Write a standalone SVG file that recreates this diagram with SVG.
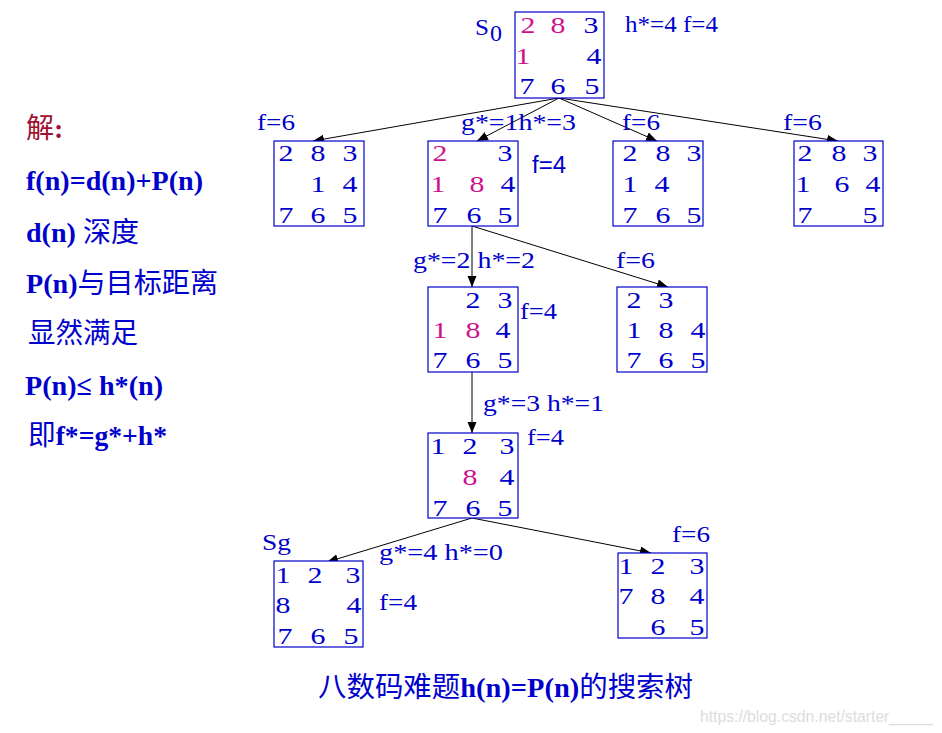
<svg xmlns="http://www.w3.org/2000/svg" width="942" height="733" viewBox="0 0 942 733">
<defs>
<style>
.box{fill:#fff;stroke:#0000cc;stroke-width:1.2}
.d{font-family:"Liberation Serif",serif;font-size:23px;fill:#0000cc;text-anchor:middle;transform-box:fill-box;transform-origin:center;transform:scaleX(1.3)}
.m{fill:#d0108c}
.lb{font-family:"Liberation Serif",serif;font-size:24px;fill:#0000cc}
.ls{font-family:"Liberation Sans",sans-serif;font-size:23px;fill:#0000cc}
.note{font-family:"Liberation Serif","Noto Sans CJK SC",serif;font-size:28px;font-weight:bold;fill:#0000cc}
.cjk{font-family:"Noto Sans CJK SC",sans-serif;font-weight:normal}
.edge{stroke:#000;stroke-width:1;fill:none;marker-end:url(#ah)}
</style>
<marker id="ah" markerUnits="userSpaceOnUse" markerWidth="12" markerHeight="10" refX="11" refY="4.5" orient="auto">
<path d="M0,0 L11,4.5 L0,9 Z" fill="#000"/>
</marker>
</defs>
<rect width="942" height="733" fill="#fff"/>

<g id="connectors">
<line class="edge" x1="559" y1="98" x2="313" y2="141"/>
<line class="edge" x1="559" y1="98" x2="477" y2="141"/>
<line class="edge" x1="559" y1="98" x2="657" y2="141"/>
<line class="edge" x1="559" y1="98" x2="838" y2="141"/>
<line class="edge" x1="472" y1="226" x2="472" y2="287"/>
<line class="edge" x1="472" y1="226" x2="668" y2="287"/>
<line class="edge" x1="472" y1="372" x2="472" y2="433"/>
<line class="edge" x1="472" y1="518" x2="327" y2="562"/>
<line class="edge" x1="472" y1="518" x2="651" y2="553"/>
</g>

<g id="n-s0">
<rect class="box" x="515" y="12" width="89" height="86"/>
<text class="d m" x="528" y="33">2</text><text class="d m" x="558" y="33">8</text><text class="d" x="591" y="33">3</text>
<text class="d m" x="523" y="64">1</text><text class="d" x="594" y="64">4</text>
<text class="d" x="527" y="94">7</text><text class="d" x="558" y="94">6</text><text class="d" x="592" y="94">5</text>
</g>

<g id="n-a">
<rect class="box" x="274" y="141" width="90" height="85"/>
<text class="d" x="286" y="161">2</text><text class="d" x="318" y="161">8</text><text class="d" x="350" y="161">3</text>
<text class="d" x="318" y="192">1</text><text class="d" x="350" y="192">4</text>
<text class="d" x="286" y="223">7</text><text class="d" x="318" y="223">6</text><text class="d" x="350" y="223">5</text>
</g>

<g id="n-b">
<rect class="box" x="428" y="141" width="90" height="85"/>
<text class="d m" x="440" y="161">2</text><text class="d" x="505" y="161">3</text>
<text class="d m" x="438" y="192">1</text><text class="d m" x="477" y="192">8</text><text class="d" x="508" y="192">4</text>
<text class="d" x="440" y="223">7</text><text class="d" x="474" y="223">6</text><text class="d" x="505" y="223">5</text>
</g>

<g id="n-c">
<rect class="box" x="613" y="141" width="90" height="85"/>
<text class="d" x="630" y="161">2</text><text class="d" x="663" y="161">8</text><text class="d" x="694" y="161">3</text>
<text class="d" x="630" y="192">1</text><text class="d" x="662" y="192">4</text>
<text class="d" x="630" y="223">7</text><text class="d" x="663" y="223">6</text><text class="d" x="694" y="223">5</text>
</g>

<g id="n-d">
<rect class="box" x="794" y="141" width="89" height="85"/>
<text class="d" x="805" y="161">2</text><text class="d" x="839" y="161">8</text><text class="d" x="870" y="161">3</text>
<text class="d" x="803" y="192">1</text><text class="d" x="842" y="192">6</text><text class="d" x="873" y="192">4</text>
<text class="d" x="805" y="223">7</text><text class="d" x="870" y="223">5</text>
</g>

<g id="n-e">
<rect class="box" x="428" y="287" width="90" height="85"/>
<text class="d" x="473" y="308">2</text><text class="d" x="505" y="308">3</text>
<text class="d m" x="440" y="338">1</text><text class="d m" x="473" y="338">8</text><text class="d" x="503" y="338">4</text>
<text class="d" x="440" y="368">7</text><text class="d" x="473" y="368">6</text><text class="d" x="505" y="368">5</text>
</g>

<g id="n-f">
<rect class="box" x="617" y="287" width="90" height="85"/>
<text class="d" x="634" y="308">2</text><text class="d" x="666" y="308">3</text>
<text class="d" x="634" y="338">1</text><text class="d" x="666" y="338">8</text><text class="d" x="698" y="338">4</text>
<text class="d" x="634" y="368">7</text><text class="d" x="666" y="368">6</text><text class="d" x="698" y="368">5</text>
</g>

<g id="n-g">
<rect class="box" x="428" y="433" width="90" height="85"/>
<text class="d" x="438" y="454">1</text><text class="d" x="470" y="454">2</text><text class="d" x="507" y="454">3</text>
<text class="d m" x="470" y="485">8</text><text class="d" x="507" y="485">4</text>
<text class="d" x="440" y="516">7</text><text class="d" x="473" y="516">6</text><text class="d" x="505" y="516">5</text>
</g>

<g id="n-sg">
<rect class="box" x="274" y="561" width="89" height="86"/>
<text class="d" x="283" y="583">1</text><text class="d" x="315" y="583">2</text><text class="d" x="353" y="583">3</text>
<text class="d" x="283" y="613">8</text><text class="d" x="354" y="613">4</text>
<text class="d" x="285" y="644">7</text><text class="d" x="318" y="644">6</text><text class="d" x="351" y="644">5</text>
</g>

<g id="n-i">
<rect class="box" x="618" y="553" width="89" height="85"/>
<text class="d" x="626" y="574">1</text><text class="d" x="658" y="574">2</text><text class="d" x="697" y="574">3</text>
<text class="d" x="626" y="604">7</text><text class="d" x="658" y="604">8</text><text class="d" x="697" y="604">4</text>
<text class="d" x="658" y="635">6</text><text class="d" x="697" y="635">5</text>
</g>

<g id="labels">
<text class="lb" x="475" y="35" font-size="26" textLength="14" lengthAdjust="spacingAndGlyphs">S</text><text class="lb" x="490" y="41" font-size="19">0</text>
<text class="lb" x="625" y="32" textLength="93" lengthAdjust="spacingAndGlyphs">h*=4 f=4</text>
<text class="lb" x="257" y="130" textLength="38" lengthAdjust="spacingAndGlyphs">f=6</text>
<text class="lb" x="461" y="130" textLength="115" lengthAdjust="spacingAndGlyphs">g*=1h*=3</text>
<text class="lb" x="622" y="130" textLength="38" lengthAdjust="spacingAndGlyphs">f=6</text>
<text class="lb" x="783" y="130" textLength="39" lengthAdjust="spacingAndGlyphs">f=6</text>
<text class="ls" x="532" y="173" textLength="34" lengthAdjust="spacingAndGlyphs">f=4</text>
<text class="lb" x="413" y="268" textLength="122" lengthAdjust="spacingAndGlyphs">g*=2 h*=2</text>
<text class="lb" x="616" y="268" textLength="39" lengthAdjust="spacingAndGlyphs">f=6</text>
<text class="lb" x="520" y="319" textLength="37" lengthAdjust="spacingAndGlyphs">f=4</text>
<text class="lb" x="483" y="411" textLength="121" lengthAdjust="spacingAndGlyphs">g*=3 h*=1</text>
<text class="lb" x="527" y="445" textLength="37" lengthAdjust="spacingAndGlyphs">f=4</text>
<text class="lb" x="262" y="550" font-size="26" textLength="29" lengthAdjust="spacingAndGlyphs">Sg</text>
<text class="lb" x="379" y="560" textLength="124" lengthAdjust="spacingAndGlyphs">g*=4 h*=0</text>
<text class="lb" x="379" y="610" textLength="38" lengthAdjust="spacingAndGlyphs">f=4</text>
<text class="lb" x="672" y="542" textLength="38" lengthAdjust="spacingAndGlyphs">f=6</text>
</g>

<g id="notes">
<text class="note" x="26" y="138" style="fill:#a01030"><tspan class="cjk">解</tspan>:</text>
<text class="note" x="26" y="190" textLength="177" lengthAdjust="spacingAndGlyphs">f(n)=d(n)+P(n)</text>
<text class="note" x="26" y="242" textLength="113" lengthAdjust="spacingAndGlyphs">d(n) <tspan class="cjk">深度</tspan></text>
<text class="note" x="26" y="293" textLength="192" lengthAdjust="spacingAndGlyphs">P(n)<tspan class="cjk">与目标距离</tspan></text>
<text class="note" x="28" y="343" textLength="110" lengthAdjust="spacingAndGlyphs"><tspan class="cjk">显然满足</tspan></text>
<text class="note" x="25" y="395" textLength="138" lengthAdjust="spacingAndGlyphs">P(n)≤ h*(n)</text>
<text class="note" x="28" y="445" textLength="139" lengthAdjust="spacingAndGlyphs"><tspan class="cjk">即</tspan>f*=g*+h*</text>
</g>

<g id="caption">
<text class="note" x="318" y="697" textLength="375" lengthAdjust="spacingAndGlyphs"><tspan class="cjk">八数码难题</tspan>h(n)=P(n)<tspan class="cjk">的搜索树</tspan></text>
<text x="700" y="722" font-family="Liberation Sans,sans-serif" font-size="16" fill="#dddddd" textLength="233" lengthAdjust="spacingAndGlyphs">https://blog.csdn.net/starter_____</text>
</g>
</svg>
